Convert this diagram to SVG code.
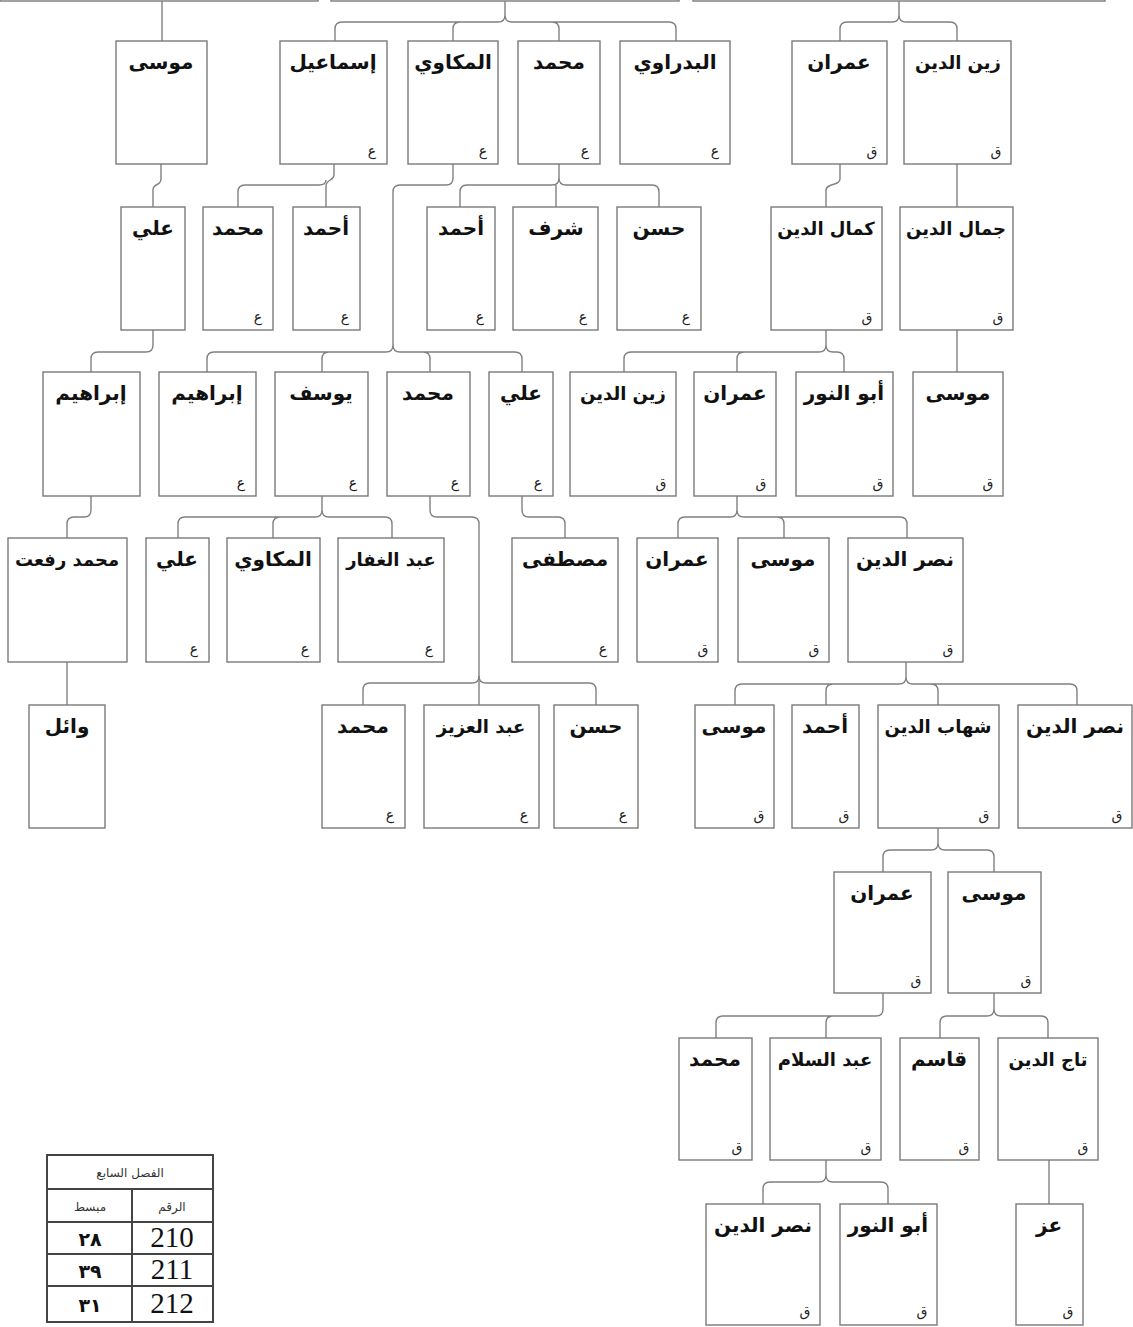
<svg xmlns="http://www.w3.org/2000/svg" width="1133" height="1327" viewBox="0 0 1133 1327">
<style>
.b{fill:#fff;stroke:#7a7a7a;stroke-width:1.4}
.n{font-family:'DejaVu Sans',sans-serif;font-weight:bold;font-size:20px;fill:#111;text-anchor:middle}
.w{font-size:18px}
.l{font-family:'DejaVu Sans',sans-serif;font-size:14px;fill:#222;text-anchor:middle}
.c path{fill:none;stroke:#808080;stroke-width:1.4}
.t{fill:none;stroke:#444;stroke-width:2}
.th{font-family:'DejaVu Sans',sans-serif;font-size:12px;fill:#333;text-anchor:middle}
.tn{font-family:'Liberation Serif',serif;font-size:29px;fill:#111;text-anchor:middle}
.ta{font-family:'DejaVu Sans',sans-serif;font-weight:bold;font-size:19px;fill:#111;text-anchor:middle}
</style>
<rect width="1133" height="1327" fill="#fff"/>
<g class="c" id="connectors">
<path d="M162,1 V41"/>
<path d="M505,1 V15 Q505,22 498,22 H342 Q335,22 335,29 V41 M505,15 Q505,22 512,22 H669 Q676,22 676,29 V41 M460,22 Q453,22 453,29 V41 M552,22 Q559,22 559,29 V41"/>
<path d="M899,1 V15 Q899,22 892,22 H847 Q840,22 840,29 V41 M899,15 Q899,22 906,22 H950 Q957,22 957,29 V41"/>
<path d="M161,164 V179 C161,186 153,183 153,190 V207"/>
<path d="M334,164 V175 C334,181 326,179 326,186 V207 M326,180 Q326,185 319,185 H245 Q238,185 238,192 V207"/>
<path d="M453,164 V178 Q453,185 446,185 H400 Q393,185 393,192 V345"/>
<path d="M559,164 V178 Q559,185 552,185 H467 Q460,185 460,192 V207 M559,178 Q559,185 566,185 H652 Q659,185 659,192 V207 M556,185 V207"/>
<path d="M840,164 V179 C840,186 826,183 826,190 V207"/>
<path d="M957,164 V207"/>
<path d="M153,330 V345 Q153,352 146,352 H98 Q91,352 91,359 V372"/>
<path d="M393,345 Q393,352 386,352 H214 Q207,352 207,359 V372 M393,345 Q393,352 400,352 H515 Q522,352 522,359 V372 M329,352 Q322,352 322,359 V372 M423,352 Q430,352 430,359 V372"/>
<path d="M826,330 V345 Q826,352 819,352 H631 Q624,352 624,359 V372 M826,345 Q826,352 833,352 H837 Q844,352 844,359 V372 M744,352 Q737,352 737,359 V372"/>
<path d="M957,330 V372"/>
<path d="M91,496 V510 Q91,517 84,517 H74 Q67,517 67,524 V538"/>
<path d="M322,496 V510 Q322,517 315,517 H185 Q178,517 178,524 V538 M322,510 Q322,517 329,517 H385 Q392,517 392,524 V538 M280,517 Q273,517 273,524 V538"/>
<path d="M430,496 V510 Q430,517 437,517 H472 Q479,517 479,524 V705"/>
<path d="M522,496 V510 Q522,517 529,517 H558 Q565,517 565,524 V538"/>
<path d="M737,496 V510 Q737,517 730,517 H685 Q678,517 678,524 V538 M737,510 Q737,517 744,517 H900 Q907,517 907,524 V538 M777,517 Q784,517 784,524 V538"/>
<path d="M67,662 V705"/>
<path d="M479,676 Q479,683 472,683 H370 Q363,683 363,690 V705 M479,676 Q479,683 486,683 H589 Q596,683 596,690 V705"/>
<path d="M906,662 V677 Q906,684 899,684 H742 Q735,684 735,691 V705 M906,677 Q906,684 913,684 H1070 Q1077,684 1077,691 V705 M833,684 Q826,684 826,691 V705 M931,684 Q938,684 938,691 V705"/>
<path d="M938,828 V843 Q938,850 931,850 H890 Q883,850 883,857 V872 M938,843 Q938,850 945,850 H987 Q994,850 994,857 V872"/>
<path d="M883,993 V1009 Q883,1016 876,1016 H723 Q716,1016 716,1023 V1038 M833,1016 Q826,1016 826,1023 V1038"/>
<path d="M994,993 V1009 Q994,1016 987,1016 H947 Q940,1016 940,1023 V1038 M994,1009 Q994,1016 1001,1016 H1041 Q1048,1016 1048,1023 V1038"/>
<path d="M826,1160 V1175 Q826,1182 819,1182 H770 Q763,1182 763,1189 V1204 M826,1175 Q826,1182 833,1182 H881 Q888,1182 888,1189 V1204"/>
<path d="M1049,1160 V1204"/>
</g>
<g id="p0"><rect class="b" x="0" y="-60" width="318" height="61"/></g>
<g id="p1"><rect class="b" x="331" y="-60" width="348" height="61"/></g>
<g id="p2"><rect class="b" x="693" y="-60" width="412" height="61"/></g>

<g id="r1a"><rect class="b" x="116" y="41" width="91" height="123"/><text class="n" x="161" y="69">موسى</text></g>
<g id="r1b"><rect class="b" x="280" y="41" width="107" height="123"/><text class="n" x="333" y="69">إسماعيل</text><text class="l" x="372" y="156">ع</text></g>
<g id="r1c"><rect class="b" x="408" y="41" width="90" height="123"/><text class="n" x="453" y="69">المكاوي</text><text class="l" x="483" y="156">ع</text></g>
<g id="r1d"><rect class="b" x="518" y="41" width="82" height="123"/><text class="n" x="559" y="69">محمد</text><text class="l" x="585" y="156">ع</text></g>
<g id="r1e"><rect class="b" x="620" y="41" width="110" height="123"/><text class="n" x="675" y="69">البدراوي</text><text class="l" x="715" y="156">ع</text></g>
<g id="r1f"><rect class="b" x="792" y="41" width="95" height="123"/><text class="n" x="839" y="69">عمران</text><text class="l" x="872" y="156">ق</text></g>
<g id="r1g"><rect class="b" x="904" y="41" width="107" height="123"/><text class="n w" x="958" y="69">زين الدين</text><text class="l" x="996" y="156">ق</text></g>

<g id="r2a"><rect class="b" x="121" y="207" width="64" height="123"/><text class="n" x="153" y="235">علي</text></g>
<g id="r2b"><rect class="b" x="203" y="207" width="70" height="123"/><text class="n" x="238" y="235">محمد</text><text class="l" x="258" y="322">ع</text></g>
<g id="r2c"><rect class="b" x="293" y="207" width="67" height="123"/><text class="n" x="326" y="235">أحمد</text><text class="l" x="345" y="322">ع</text></g>
<g id="r2d"><rect class="b" x="427" y="207" width="68" height="123"/><text class="n" x="461" y="235">أحمد</text><text class="l" x="480" y="322">ع</text></g>
<g id="r2e"><rect class="b" x="513" y="207" width="85" height="123"/><text class="n" x="556" y="235">شرف</text><text class="l" x="583" y="322">ع</text></g>
<g id="r2f"><rect class="b" x="617" y="207" width="84" height="123"/><text class="n" x="659" y="235">حسن</text><text class="l" x="686" y="322">ع</text></g>
<g id="r2g"><rect class="b" x="771" y="207" width="111" height="123"/><text class="n w" x="826" y="235">كمال الدين</text><text class="l" x="867" y="322">ق</text></g>
<g id="r2h"><rect class="b" x="900" y="207" width="113" height="123"/><text class="n w" x="956" y="235">جمال الدين</text><text class="l" x="998" y="322">ق</text></g>

<g id="r3a"><rect class="b" x="43" y="372" width="97" height="124"/><text class="n" x="91" y="400">إبراهيم</text></g>
<g id="r3b"><rect class="b" x="159" y="372" width="97" height="124"/><text class="n" x="207" y="400">إبراهيم</text><text class="l" x="241" y="488">ع</text></g>
<g id="r3c"><rect class="b" x="275" y="372" width="93" height="124"/><text class="n" x="321" y="400">يوسف</text><text class="l" x="353" y="488">ع</text></g>
<g id="r3d"><rect class="b" x="387" y="372" width="83" height="124"/><text class="n" x="428" y="400">محمد</text><text class="l" x="455" y="488">ع</text></g>
<g id="r3e"><rect class="b" x="489" y="372" width="64" height="124"/><text class="n" x="521" y="400">علي</text><text class="l" x="538" y="488">ع</text></g>
<g id="r3f"><rect class="b" x="570" y="372" width="106" height="124"/><text class="n w" x="623" y="400">زين الدين</text><text class="l" x="661" y="488">ق</text></g>
<g id="r3g"><rect class="b" x="694" y="372" width="82" height="124"/><text class="n" x="735" y="400">عمران</text><text class="l" x="761" y="488">ق</text></g>
<g id="r3h"><rect class="b" x="796" y="372" width="97" height="124"/><text class="n" x="844" y="400">أبو النور</text><text class="l" x="878" y="488">ق</text></g>
<g id="r3i"><rect class="b" x="913" y="372" width="90" height="124"/><text class="n" x="958" y="400">موسى</text><text class="l" x="988" y="488">ق</text></g>

<g id="r4a"><rect class="b" x="8" y="538" width="119" height="124"/><text class="n w" x="67" y="566">محمد رفعت</text></g>
<g id="r4b"><rect class="b" x="146" y="538" width="63" height="124"/><text class="n" x="177" y="566">علي</text><text class="l" x="194" y="654">ع</text></g>
<g id="r4c"><rect class="b" x="227" y="538" width="93" height="124"/><text class="n" x="273" y="566">المكاوي</text><text class="l" x="305" y="654">ع</text></g>
<g id="r4d"><rect class="b" x="338" y="538" width="106" height="124"/><text class="n w" x="391" y="566">عبد الغفار</text><text class="l" x="429" y="654">ع</text></g>
<g id="r4e"><rect class="b" x="512" y="538" width="106" height="124"/><text class="n" x="565" y="566">مصطفى</text><text class="l" x="603" y="654">ع</text></g>
<g id="r4f"><rect class="b" x="637" y="538" width="81" height="124"/><text class="n" x="677" y="566">عمران</text><text class="l" x="703" y="654">ق</text></g>
<g id="r4g"><rect class="b" x="738" y="538" width="91" height="124"/><text class="n" x="783" y="566">موسى</text><text class="l" x="814" y="654">ق</text></g>
<g id="r4h"><rect class="b" x="848" y="538" width="115" height="124"/><text class="n" x="905" y="566">نصر الدين</text><text class="l" x="948" y="654">ق</text></g>

<g id="r5a"><rect class="b" x="29" y="705" width="76" height="123"/><text class="n" x="67" y="733">وائل</text></g>
<g id="r5b"><rect class="b" x="322" y="705" width="83" height="123"/><text class="n" x="363" y="733">محمد</text><text class="l" x="390" y="820">ع</text></g>
<g id="r5c"><rect class="b" x="424" y="705" width="115" height="123"/><text class="n w" x="481" y="733">عبد العزيز</text><text class="l" x="524" y="820">ع</text></g>
<g id="r5d"><rect class="b" x="554" y="705" width="84" height="123"/><text class="n" x="596" y="733">حسن</text><text class="l" x="623" y="820">ع</text></g>
<g id="r5e"><rect class="b" x="695" y="705" width="79" height="123"/><text class="n" x="734" y="733">موسى</text><text class="l" x="759" y="820">ق</text></g>
<g id="r5f"><rect class="b" x="792" y="705" width="67" height="123"/><text class="n" x="825" y="733">أحمد</text><text class="l" x="844" y="820">ق</text></g>
<g id="r5g"><rect class="b" x="878" y="705" width="121" height="123"/><text class="n w" x="938" y="733">شهاب الدين</text><text class="l" x="984" y="820">ق</text></g>
<g id="r5h"><rect class="b" x="1018" y="705" width="114" height="123"/><text class="n" x="1075" y="733">نصر الدين</text><text class="l" x="1117" y="820">ق</text></g>

<g id="r6a"><rect class="b" x="834" y="872" width="97" height="121"/><text class="n" x="882" y="900">عمران</text><text class="l" x="916" y="985">ق</text></g>
<g id="r6b"><rect class="b" x="948" y="872" width="93" height="121"/><text class="n" x="994" y="900">موسى</text><text class="l" x="1026" y="985">ق</text></g>

<g id="r7a"><rect class="b" x="679" y="1038" width="73" height="122"/><text class="n" x="715" y="1066">محمد</text><text class="l" x="737" y="1152">ق</text></g>
<g id="r7b"><rect class="b" x="770" y="1038" width="111" height="122"/><text class="n w" x="825" y="1066">عبد السلام</text><text class="l" x="866" y="1152">ق</text></g>
<g id="r7c"><rect class="b" x="900" y="1038" width="79" height="122"/><text class="n" x="939" y="1066">قاسم</text><text class="l" x="964" y="1152">ق</text></g>
<g id="r7d"><rect class="b" x="998" y="1038" width="100" height="122"/><text class="n w" x="1048" y="1066">تاج الدين</text><text class="l" x="1083" y="1152">ق</text></g>

<g id="r8a"><rect class="b" x="706" y="1204" width="114" height="121"/><text class="n" x="763" y="1232">نصر الدين</text><text class="l" x="805" y="1316">ق</text></g>
<g id="r8b"><rect class="b" x="840" y="1204" width="97" height="121"/><text class="n" x="888" y="1232">أبو النور</text><text class="l" x="922" y="1316">ق</text></g>
<g id="r8c"><rect class="b" x="1016" y="1204" width="67" height="121"/><text class="n" x="1049" y="1232">عز</text><text class="l" x="1068" y="1316">ق</text></g>

<g id="table">
<rect class="t" x="47" y="1155" width="166" height="167"/>
<path class="t" d="M47,1189 H213 M47,1222 H213 M47,1254 H213 M47,1286 H213 M132,1189 V1322"/>
<text class="th" x="130" y="1177">الفصل السابع</text>
<text class="th" x="90" y="1211">مبسط</text>
<text class="th" x="172" y="1211">الرقم</text>
<text class="tn" x="172" y="1247">210</text>
<text class="tn" x="172" y="1279">211</text>
<text class="tn" x="172" y="1313">212</text>
<text class="ta" x="90" y="1246">٢٨</text>
<text class="ta" x="90" y="1278">٣٩</text>
<text class="ta" x="90" y="1312">٣١</text>
</g>
</svg>
